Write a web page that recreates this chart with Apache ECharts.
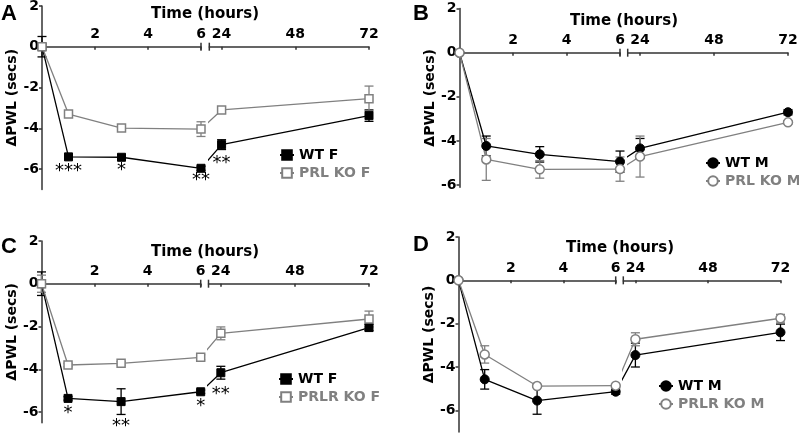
<!DOCTYPE html>
<html><head><meta charset="utf-8">
<script src="https://cdn.jsdelivr.net/npm/echarts@6/dist/echarts.min.js"></script>
<style>html,body{margin:0;padding:0;background:#fff}#c{width:799px;height:434px}</style>
</head><body><div id="c"></div>
<script>
// ---------- DATA ----------
const times = [0, 1, 3, 6, 24, 72];
const leftTicks = [2, 4, 6];
const rightTicks = [24, 48, 72];
const yTicks = [2, 0, -2, -4, -6];

// Panel A (female, PRL KO)
const wtF_A = [0, -5.4, -5.42, -5.96, -4.8, -3.38];
const wtF_A_err = [0.5, 0.08, 0.1, 0.1, 0.24, 0.28];
const prlKoF_A = [0, -3.3, -3.99, -4.04, -3.1, -2.55];
const prlKoF_A_err = [0, 0.12, 0.12, 0.36, 0.15, 0.62];
const starsA = ['', '***', '*', '**', '**', ''];

// Panel B (male, PRL KO)
const wtM_B = [0, -4.23, -4.61, -4.94, -4.34, -2.70];
const wtM_B_err = [0, 0.45, 0.35, 0.48, 0.45, 0.12];
const prlKoM_B = [0, -4.84, -5.29, -5.28, -4.71, -3.16];
const prlKoM_B_err = [0, 0.95, 0.4, 0.55, 0.93, 0.08];
const starsB = ['', '', '', '', '', ''];

// Panel C (female, PRLR KO)
const wtF_C = [0, -5.36, -5.51, -5.05, -4.16, -2.05];
const wtF_C_err = [0.55, 0.08, 0.6, 0.08, 0.3, 0.15];
const prlrKoF_C = [0, -3.8, -3.72, -3.44, -2.32, -1.65];
const prlrKoF_C_err = [0.4, 0.08, 0.08, 0.12, 0.3, 0.37];
const starsC = ['', '*', '**', '*', '**', ''];

// Panel D (male, PRLR KO)
const wtM_D = [0, -4.57, -5.55, -5.14, -3.45, -2.40];
const wtM_D_err = [0.05, 0.45, 0.63, 0.12, 0.55, 0.38];
const prlrKoM_D = [0, -3.42, -4.88, -4.86, -2.72, -1.75];
const prlrKoM_D_err = [0, 0.4, 0.05, 0.05, 0.3, 0.18];
const starsD = ['', '', '', '', '', ''];

// ---------- LAYOUT / STYLE ----------
const FONT = 'DejaVu Sans';
const BLACK = '#000000', GREY = '#808080', AXIS = '#333333';
const panels = [
  {letter:'A', lx:1, ly:3, tx:205, ty:14, x0:42, x6:201, xr:209.3, x72:369, yTop:5.9, yBot:189.5, ymin:-7, ymax:2, R:20,
   wt:{name:'WT F', v:wtF_A, e:wtF_A_err, stars:starsA}, ko:{name:'PRL KO F', v:prlKoF_A, e:prlKoF_A_err},
   sym:'rect', legend:{left:279, top:148}, starDist:[0,1,0,-1,5,0]},
  {letter:'B', lx:413, ly:3, tx:624, ty:21, x0:459.5, x6:620, xr:627.7, x72:788, yTop:8.6, yBot:187.2, ymin:-6.1, ymax:2, R:20,
   wt:{name:'WT M', v:wtM_B, e:wtM_B_err, stars:starsB}, ko:{name:'PRL KO M', v:prlKoM_B, e:prlKoM_B_err},
   sym:'circle', legend:{left:705, top:156}, starDist:[0,0,0,0,0,0]},
  {letter:'C', lx:1, ly:236, tx:205, ty:252, x0:41.5, x6:200.7, xr:208.5, x72:369, yTop:240.9, yBot:422.8, ymin:-6.5, ymax:2, R:20,
   wt:{name:'WT F', v:wtF_C, e:wtF_C_err, stars:starsC}, ko:{name:'PRLR KO F', v:prlrKoF_C, e:prlrKoF_C_err},
   sym:'rect', legend:{left:278, top:372}, starDist:[0,1,11,1,8,0]},
  {letter:'D', lx:413, ly:234, tx:620, ty:248, x0:458.5, x6:615.7, xr:623.3, x72:780.5, yTop:237, yBot:432, ymin:-7, ymax:2, R:20,
   wt:{name:'WT M', v:wtM_D, e:wtM_D_err, stars:starsD}, ko:{name:'PRLR KO M', v:prlrKoM_D, e:prlrKoM_D_err},
   sym:'circle', legend:{left:658, top:379}, starDist:[0,0,0,0,0,0]}
];

function errRender(color, cap) {
  return function (params, api) {
    const x = api.value(0), lo = api.value(1), hi = api.value(2);
    const p1 = api.coord([x, hi]), p2 = api.coord([x, lo]);
    const style = {stroke: color, lineWidth: 1.3};
    return {type:'group', children:[
      {type:'line', shape:{x1:p1[0], y1:p1[1], x2:p2[0], y2:p2[1]}, style},
      {type:'line', shape:{x1:p1[0]-cap/2, y1:p1[1], x2:p1[0]+cap/2, y2:p1[1]}, style},
      {type:'line', shape:{x1:p2[0]-cap/2, y1:p2[1], x2:p2[0]+cap/2, y2:p2[1]}, style}
    ]};
  };
}
function capRender(params, api) {
  const p = api.coord([api.value(0), api.value(1)]);
  return {type:'line', shape:{x1:p[0], y1:p[1]-4, x2:p[0], y2:p[1]+4}, style:{stroke:AXIS, lineWidth:1.5}};
}

const grid = [], xAxis = [], yAxis = [], series = [], legend = [], graphic = [];
const axisLbl = {fontFamily: FONT, fontWeight: 'bold', fontSize: 14, color: BLACK};

panels.forEach((p, pi) => {
  const gL = grid.length, gR = gL + 1;
  const top = p.yTop, height = p.yBot - p.yTop;
  // the time axis sits on the zero line: shift it down from the grid top
  const zeroShift = -height * p.ymax / (p.ymax - p.ymin);
  grid.push({left: p.x0, top: top, width: p.x6 - p.x0, height: height, outerBoundsMode:'none', containLabel:false});
  grid.push({left: p.xr, top: top, width: p.x72 - p.xr, height: height, outerBoundsMode:'none', containLabel:false});
  const xCommon = {type:'value', position:'top', offset:zeroShift, splitLine:{show:false},
    axisLine:{show:true, onZero:false, lineStyle:{color:AXIS, width:1.5}},
    axisTick:{show:true, inside:true, length:3, lineStyle:{color:AXIS, width:1.5}}};
  xAxis.push(Object.assign({}, xCommon, {gridIndex:gL, min:0, max:6,
    axisTick: Object.assign({}, xCommon.axisTick, {customValues:leftTicks}),
    axisLabel: Object.assign({customValues:leftTicks, margin:5}, axisLbl)}));
  xAxis.push(Object.assign({}, xCommon, {gridIndex:gR, min:p.R, max:72,
    axisTick: Object.assign({}, xCommon.axisTick, {customValues:rightTicks}),
    axisLabel: Object.assign({customValues:rightTicks, margin:5}, axisLbl)}));
  yAxis.push({type:'value', gridIndex:gL, min:p.ymin, max:p.ymax, splitLine:{show:false},
    axisLine:{show:true, onZero:false, lineStyle:{color:AXIS, width:1.5}},
    axisTick:{show:true, length:3, customValues:yTicks, lineStyle:{color:AXIS, width:1.5}},
    axisLabel: Object.assign({customValues:yTicks, margin:3}, axisLbl),
    name:'ΔPWL (secs)', nameLocation:'middle', nameRotate:90, nameGap:17,
    nameTextStyle:{fontFamily:FONT, fontWeight:'bold', fontSize:14, color:BLACK}});
  yAxis.push({type:'value', gridIndex:gR, min:p.ymin, max:p.ymax, show:false});

  // 6 h expressed on the right segment's scale (broken-axis continuation, clipped at break)
  const sixOnRight = p.R - (p.xr - p.x6) * (72 - p.R) / (p.x72 - p.xr);

  [['wt', BLACK, true], ['ko', GREY, false]].forEach(([key, color, filled]) => {
    const s = p[key];
    const symSize = p.sym === 'rect' ? 8 : 9;
    const itemStyle = filled ? {color: color, borderColor: color, borderWidth: 1}
                             : {color: '#ffffff', borderColor: color, borderWidth: 1.5};
    const lineStyle = {color: color, width: 1.3};
    const errL = [], errR = [];
    times.forEach((t, i) => {
      if (s.e[i] > 0) (t <= 6 ? errL : errR).push([t, s.v[i] - s.e[i], s.v[i] + s.e[i]]);
    });
    series.push({type:'custom', name:'err', xAxisIndex:gL, yAxisIndex:gL, renderItem:errRender(color, 9),
      data:errL, encode:{x:0, y:[1,2]}, silent:true, clip:false, z:2});
    series.push({type:'custom', name:'err', xAxisIndex:gR, yAxisIndex:gR, renderItem:errRender(color, 9),
      data:errR, encode:{x:0, y:[1,2]}, silent:true, clip:false, z:2});
    const mkItem = (t, i) => {
      const it = {value:[t, s.v[i]]};
      if (s.stars && s.stars[i]) {
        it.label = {show:true, formatter:s.stars[i], position:'bottom', distance:p.starDist[i],
          fontFamily:FONT, fontSize:18, color:BLACK};
      }
      return it;
    };
    const leftData = [], rightData = [];
    times.forEach((t, i) => {
      if (t <= 6) leftData.push(mkItem(t, i)); else rightData.push(mkItem(t, i));
    });
    const i6 = times.indexOf(6);
    rightData.unshift({value:[sixOnRight, s.v[i6]], symbol:'none'});
    const base = {type:'line', name:s.name, symbol:p.sym, symbolSize:symSize, showAllSymbol:true,
      itemStyle:itemStyle, lineStyle:lineStyle, animation:false, z:3};
    series.push(Object.assign({}, base, {xAxisIndex:gL, yAxisIndex:gL, data:leftData, clip:false}));
    series.push(Object.assign({}, base, {xAxisIndex:gR, yAxisIndex:gR, data:rightData, clip:true}));
  });
  // break caps at the segment ends
  series.push({type:'custom', name:'cap', xAxisIndex:gL, yAxisIndex:gL, renderItem:capRender, data:[[6,0]], clip:false, silent:true});
  series.push({type:'custom', name:'cap', xAxisIndex:gR, yAxisIndex:gR, renderItem:capRender, data:[[p.R,0]], clip:false, silent:true});

  legend.push({left:p.legend.left, top:p.legend.top, orient:'vertical', padding:0, itemGap:4,
    itemWidth:14, itemHeight:12, selectedMode:false,
    textStyle:{fontFamily:FONT, fontWeight:'bold', fontSize:14},
    data:[{name:p.wt.name, textStyle:{color:BLACK}}, {name:p.ko.name, textStyle:{color:GREY}}]});

  graphic.push({type:'text', left:p.lx, top:p.ly, style:{text:p.letter, font:'bold 22px "Liberation Sans"', fill:BLACK}});
  graphic.push({type:'text', x:p.tx, y:p.ty, style:{text:'Time (hours)', font:'bold 15px "DejaVu Sans"', fill:BLACK,
    textAlign:'center', textVerticalAlign:'middle'}});
});

const chart = echarts.init(document.getElementById('c'), null, {renderer:'canvas'});
chart.setOption({animation:false, backgroundColor:'#ffffff', grid, xAxis, yAxis, series, legend, graphic});
</script></body></html>
